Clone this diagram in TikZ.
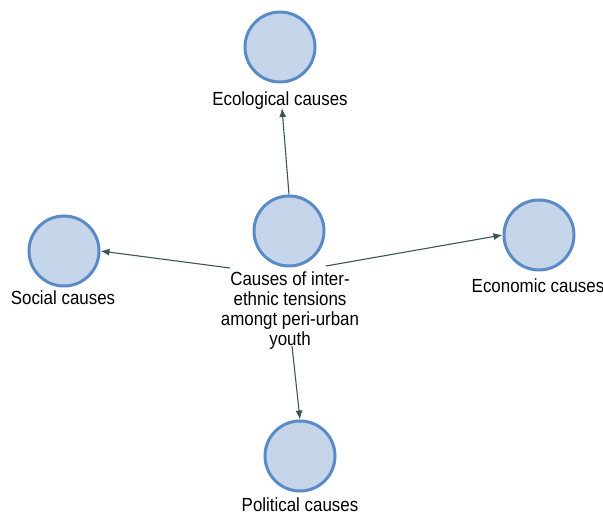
\documentclass[tikz,border=0pt]{standalone}
\usepackage{fontspec}
\setmainfont{Liberation Sans}
\usetikzlibrary{arrows.meta}
\definecolor{circfill}{HTML}{C6D6EA}
\definecolor{circedge}{HTML}{5A8BC6}
\definecolor{linkcol}{HTML}{3B5753}
\begin{document}
\begin{tikzpicture}[x=1pt,y=-1pt,
  cause/.style={circle,draw=circedge,fill=circfill,line width=3pt,minimum size=70pt,inner sep=0pt},
  caption/.style={anchor=base,inner sep=0pt,font=\fontsize{19}{20}\selectfont,xscale=0.89,align=center},
  link/.style={draw=linkcol,line width=1.1pt,-{Latex[length=9pt,width=7pt]}}]
  \useasboundingbox (0,0) rectangle (603,518);
  % circles
  \node[cause] (eco) at (280,47) {};
  \node[cause] (mid) at (289,231) {};
  \node[cause] (soc) at (64,251) {};
  \node[cause] (econ) at (539,235) {};
  \node[cause] (pol) at (300,456) {};
  % captions
  \node[caption] (ecoL) at (280,106) {Ecological causes};
  \node[caption,anchor=north] (midL) at (290,272) {Causes of inter-\\ethnic tensions\\amongt peri-urban\\youth};
  \node[caption] (socL) at (63,305) {Social causes};
  \node[caption] (econL) at (538,293) {Economic causes};
  \node[caption] (polL) at (300,512) {Political causes};
  % arrow starting points
  \coordinate (toSoc) at (230,268);
  \coordinate (toEcon) at (326,266);
  \coordinate (toPol) at (292,346);
  \coordinate (ecoTip) at (282,108);
  % connectors
  \draw[link] (mid.north) -- (ecoTip);
  \draw[link] (toSoc) -- (soc.east);
  \draw[link] (toEcon) -- (econ.west);
  \draw[link] (toPol) -- (pol.north);
\end{tikzpicture}
\end{document}
